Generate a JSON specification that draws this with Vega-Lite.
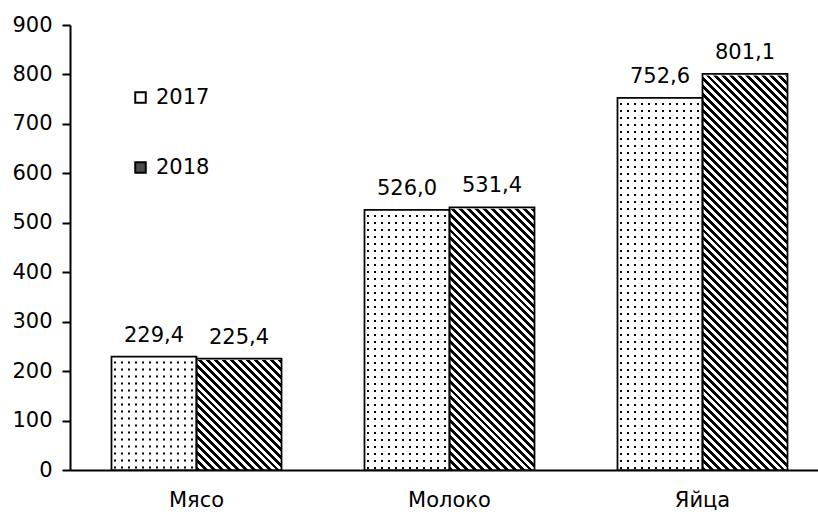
{
  "$schema": "https://vega.github.io/schema/vega-lite/v6.json",
  "width": 748,
  "height": 445,
  "autosize": {"type": "none"},
  "padding": {"left": 70, "top": 25, "right": 0, "bottom": 44},
  "background": "#ffffff",
  "config": {
    "font": "DejaVu Sans",
    "view": {"stroke": null},
    "locale": {"number": {"decimal": ",", "thousands": " ", "grouping": [3], "currency": ["", ""]}},
    "axis": {"domainColor": "#000", "domainWidth": 2, "tickColor": "#000", "tickWidth": 2, "labelColor": "#000", "labelFontSize": 21, "labelFont": "DejaVu Sans", "grid": false},
    "legend": {"labelColor": "#000", "labelFont": "DejaVu Sans"}
  },
  "data": {"values": [
    {"cat": "Мясо", "year": "2017", "value": 229.4},
    {"cat": "Мясо", "year": "2018", "value": 225.4},
    {"cat": "Молоко", "year": "2017", "value": 526.0},
    {"cat": "Молоко", "year": "2018", "value": 531.4},
    {"cat": "Яйца", "year": "2017", "value": 752.6},
    {"cat": "Яйца", "year": "2018", "value": 801.1}
  ]},
  "encoding": {
    "x": {"field": "cat", "type": "nominal", "sort": ["Мясо", "Молоко", "Яйца"], "title": null,
          "scale": {"range": [0, 759], "paddingInner": 0.328, "paddingOuter": 0.164},
          "axis": {"labelAngle": 0, "ticks": false, "tickSize": 0, "labelPadding": 19}},
    "xOffset": {"field": "year", "type": "nominal", "scale": {"paddingInner": 0, "paddingOuter": 0}},
    "y": {"field": "value", "type": "quantitative", "title": null,
          "scale": {"domain": [0, 900], "nice": false},
          "axis": {"values": [0, 100, 200, 300, 400, 500, 600, 700, 800, 900], "tickSize": 8, "labelPadding": 10}}
  },
  "layer": [
    {
      "mark": {"type": "bar", "stroke": null},
      "encoding": {
        "fill": {"field": "year", "type": "nominal", "scale": {"range": ["#ffffff", "#4d4d4d"]},
                 "legend": {"orient": "none", "legendX": 60, "legendY": 62, "title": null, "symbolType": "square", "symbolSize": 110, "symbolStrokeColor": "#000", "symbolStrokeWidth": 2, "symbolOpacity": 1, "labelFontSize": 21, "labelOffset": 5, "rowPadding": 48, "padding": 0}}
      }
    },
    {
      "transform": [{"filter": "datum.year == '2017'"}],
      "mark": {"type": "bar", "stroke": null, "fill": {"gradient": "linear", "x1": 0, "y1": 0, "x2": 1, "y2": 0, "stops": [
        {"offset": 0, "color": "#fff"},
        {"offset": 0.03, "color": "#fff"}, {"offset": 0.03, "color": "#000"}, {"offset": 0.0535, "color": "#000"}, {"offset": 0.0535, "color": "#fff"},
        {"offset": 0.1124, "color": "#fff"}, {"offset": 0.1124, "color": "#000"}, {"offset": 0.1359, "color": "#000"}, {"offset": 0.1359, "color": "#fff"},
        {"offset": 0.1947, "color": "#fff"}, {"offset": 0.1947, "color": "#000"}, {"offset": 0.2182, "color": "#000"}, {"offset": 0.2182, "color": "#fff"},
        {"offset": 0.2771, "color": "#fff"}, {"offset": 0.2771, "color": "#000"}, {"offset": 0.3006, "color": "#000"}, {"offset": 0.3006, "color": "#fff"},
        {"offset": 0.3594, "color": "#fff"}, {"offset": 0.3594, "color": "#000"}, {"offset": 0.3829, "color": "#000"}, {"offset": 0.3829, "color": "#fff"},
        {"offset": 0.4418, "color": "#fff"}, {"offset": 0.4418, "color": "#000"}, {"offset": 0.4653, "color": "#000"}, {"offset": 0.4653, "color": "#fff"},
        {"offset": 0.5241, "color": "#fff"}, {"offset": 0.5241, "color": "#000"}, {"offset": 0.5476, "color": "#000"}, {"offset": 0.5476, "color": "#fff"},
        {"offset": 0.6065, "color": "#fff"}, {"offset": 0.6065, "color": "#000"}, {"offset": 0.63, "color": "#000"}, {"offset": 0.63, "color": "#fff"},
        {"offset": 0.6888, "color": "#fff"}, {"offset": 0.6888, "color": "#000"}, {"offset": 0.7123, "color": "#000"}, {"offset": 0.7123, "color": "#fff"},
        {"offset": 0.7712, "color": "#fff"}, {"offset": 0.7712, "color": "#000"}, {"offset": 0.7947, "color": "#000"}, {"offset": 0.7947, "color": "#fff"},
        {"offset": 0.8535, "color": "#fff"}, {"offset": 0.8535, "color": "#000"}, {"offset": 0.877, "color": "#000"}, {"offset": 0.877, "color": "#fff"},
        {"offset": 0.9359, "color": "#fff"}, {"offset": 0.9359, "color": "#000"}, {"offset": 0.9594, "color": "#000"}, {"offset": 0.9594, "color": "#fff"},
        {"offset": 1, "color": "#fff"}
      ]}}
    },
    {
      "transform": [{"filter": "datum.year == '2017'"}],
      "mark": {"type": "rule", "stroke": "#fff", "strokeWidth": 85, "strokeDash": [5, 2], "strokeCap": "butt"},
      "encoding": {"y2": {"datum": 0}}
    },
    {
      "transform": [{"filter": "datum.year == '2018'"}],
      "mark": {"type": "bar", "stroke": null, "fill": {"gradient": "linear", "x1": 0, "y1": 1, "x2": 0.219489, "y2": -0.149088, "stops": [
        {"offset": 0, "color": "#000"},
        {"offset": 0.0075, "color": "#000"}, {"offset": 0.0075, "color": "#fff"},
        {"offset": 0.015, "color": "#fff"}, {"offset": 0.015, "color": "#000"},
        {"offset": 0.0225, "color": "#000"}, {"offset": 0.0225, "color": "#fff"},
        {"offset": 0.03, "color": "#fff"}, {"offset": 0.03, "color": "#000"},
        {"offset": 0.0375, "color": "#000"}, {"offset": 0.0375, "color": "#fff"},
        {"offset": 0.045, "color": "#fff"}, {"offset": 0.045, "color": "#000"},
        {"offset": 0.0525, "color": "#000"}, {"offset": 0.0525, "color": "#fff"},
        {"offset": 0.06, "color": "#fff"}, {"offset": 0.06, "color": "#000"},
        {"offset": 0.0675, "color": "#000"}, {"offset": 0.0675, "color": "#fff"},
        {"offset": 0.075, "color": "#fff"}, {"offset": 0.075, "color": "#000"},
        {"offset": 0.0825, "color": "#000"}, {"offset": 0.0825, "color": "#fff"},
        {"offset": 0.09, "color": "#fff"}, {"offset": 0.09, "color": "#000"},
        {"offset": 0.0975, "color": "#000"}, {"offset": 0.0975, "color": "#fff"},
        {"offset": 0.105, "color": "#fff"}, {"offset": 0.105, "color": "#000"},
        {"offset": 0.1125, "color": "#000"}, {"offset": 0.1125, "color": "#fff"},
        {"offset": 0.12, "color": "#fff"}, {"offset": 0.12, "color": "#000"},
        {"offset": 0.1275, "color": "#000"}, {"offset": 0.1275, "color": "#fff"},
        {"offset": 0.135, "color": "#fff"}, {"offset": 0.135, "color": "#000"},
        {"offset": 0.1425, "color": "#000"}, {"offset": 0.1425, "color": "#fff"},
        {"offset": 0.15, "color": "#fff"}, {"offset": 0.15, "color": "#000"},
        {"offset": 0.1575, "color": "#000"}, {"offset": 0.1575, "color": "#fff"},
        {"offset": 0.165, "color": "#fff"}, {"offset": 0.165, "color": "#000"},
        {"offset": 0.1725, "color": "#000"}, {"offset": 0.1725, "color": "#fff"},
        {"offset": 0.18, "color": "#fff"}, {"offset": 0.18, "color": "#000"},
        {"offset": 0.1875, "color": "#000"}, {"offset": 0.1875, "color": "#fff"},
        {"offset": 0.195, "color": "#fff"}, {"offset": 0.195, "color": "#000"},
        {"offset": 0.2025, "color": "#000"}, {"offset": 0.2025, "color": "#fff"},
        {"offset": 0.21, "color": "#fff"}, {"offset": 0.21, "color": "#000"},
        {"offset": 0.2175, "color": "#000"}, {"offset": 0.2175, "color": "#fff"},
        {"offset": 0.225, "color": "#fff"}, {"offset": 0.225, "color": "#000"},
        {"offset": 0.2325, "color": "#000"}, {"offset": 0.2325, "color": "#fff"},
        {"offset": 0.24, "color": "#fff"}, {"offset": 0.24, "color": "#000"},
        {"offset": 0.2475, "color": "#000"}, {"offset": 0.2475, "color": "#fff"},
        {"offset": 0.255, "color": "#fff"}, {"offset": 0.255, "color": "#000"},
        {"offset": 0.2625, "color": "#000"}, {"offset": 0.2625, "color": "#fff"},
        {"offset": 0.27, "color": "#fff"}, {"offset": 0.27, "color": "#000"},
        {"offset": 0.2775, "color": "#000"}, {"offset": 0.2775, "color": "#fff"},
        {"offset": 0.285, "color": "#fff"}, {"offset": 0.285, "color": "#000"},
        {"offset": 0.2925, "color": "#000"}, {"offset": 0.2925, "color": "#fff"},
        {"offset": 0.3, "color": "#fff"}, {"offset": 0.3, "color": "#000"},
        {"offset": 0.3075, "color": "#000"}, {"offset": 0.3075, "color": "#fff"},
        {"offset": 0.315, "color": "#fff"}, {"offset": 0.315, "color": "#000"},
        {"offset": 0.3225, "color": "#000"}, {"offset": 0.3225, "color": "#fff"},
        {"offset": 0.33, "color": "#fff"}, {"offset": 0.33, "color": "#000"},
        {"offset": 0.3375, "color": "#000"}, {"offset": 0.3375, "color": "#fff"},
        {"offset": 0.345, "color": "#fff"}, {"offset": 0.345, "color": "#000"},
        {"offset": 0.3525, "color": "#000"}, {"offset": 0.3525, "color": "#fff"},
        {"offset": 0.36, "color": "#fff"}, {"offset": 0.36, "color": "#000"},
        {"offset": 0.3675, "color": "#000"}, {"offset": 0.3675, "color": "#fff"},
        {"offset": 0.375, "color": "#fff"}, {"offset": 0.375, "color": "#000"},
        {"offset": 0.3825, "color": "#000"}, {"offset": 0.3825, "color": "#fff"},
        {"offset": 0.39, "color": "#fff"}, {"offset": 0.39, "color": "#000"},
        {"offset": 0.3975, "color": "#000"}, {"offset": 0.3975, "color": "#fff"},
        {"offset": 0.405, "color": "#fff"}, {"offset": 0.405, "color": "#000"},
        {"offset": 0.4125, "color": "#000"}, {"offset": 0.4125, "color": "#fff"},
        {"offset": 0.42, "color": "#fff"}, {"offset": 0.42, "color": "#000"},
        {"offset": 0.4275, "color": "#000"}, {"offset": 0.4275, "color": "#fff"},
        {"offset": 0.435, "color": "#fff"}, {"offset": 0.435, "color": "#000"},
        {"offset": 0.4425, "color": "#000"}, {"offset": 0.4425, "color": "#fff"},
        {"offset": 0.45, "color": "#fff"}, {"offset": 0.45, "color": "#000"},
        {"offset": 0.4575, "color": "#000"}, {"offset": 0.4575, "color": "#fff"},
        {"offset": 0.465, "color": "#fff"}, {"offset": 0.465, "color": "#000"},
        {"offset": 0.4725, "color": "#000"}, {"offset": 0.4725, "color": "#fff"},
        {"offset": 0.48, "color": "#fff"}, {"offset": 0.48, "color": "#000"},
        {"offset": 0.4875, "color": "#000"}, {"offset": 0.4875, "color": "#fff"},
        {"offset": 0.495, "color": "#fff"}, {"offset": 0.495, "color": "#000"},
        {"offset": 0.5025, "color": "#000"}, {"offset": 0.5025, "color": "#fff"},
        {"offset": 0.51, "color": "#fff"}, {"offset": 0.51, "color": "#000"},
        {"offset": 0.5175, "color": "#000"}, {"offset": 0.5175, "color": "#fff"},
        {"offset": 0.525, "color": "#fff"}, {"offset": 0.525, "color": "#000"},
        {"offset": 0.5325, "color": "#000"}, {"offset": 0.5325, "color": "#fff"},
        {"offset": 0.54, "color": "#fff"}, {"offset": 0.54, "color": "#000"},
        {"offset": 0.5475, "color": "#000"}, {"offset": 0.5475, "color": "#fff"},
        {"offset": 0.555, "color": "#fff"}, {"offset": 0.555, "color": "#000"},
        {"offset": 0.5625, "color": "#000"}, {"offset": 0.5625, "color": "#fff"},
        {"offset": 0.57, "color": "#fff"}, {"offset": 0.57, "color": "#000"},
        {"offset": 0.5775, "color": "#000"}, {"offset": 0.5775, "color": "#fff"},
        {"offset": 0.585, "color": "#fff"}, {"offset": 0.585, "color": "#000"},
        {"offset": 0.5925, "color": "#000"}, {"offset": 0.5925, "color": "#fff"},
        {"offset": 0.6, "color": "#fff"}, {"offset": 0.6, "color": "#000"},
        {"offset": 0.6075, "color": "#000"}, {"offset": 0.6075, "color": "#fff"},
        {"offset": 0.615, "color": "#fff"}, {"offset": 0.615, "color": "#000"},
        {"offset": 0.6225, "color": "#000"}, {"offset": 0.6225, "color": "#fff"},
        {"offset": 0.63, "color": "#fff"}, {"offset": 0.63, "color": "#000"},
        {"offset": 0.6375, "color": "#000"}, {"offset": 0.6375, "color": "#fff"},
        {"offset": 0.645, "color": "#fff"}, {"offset": 0.645, "color": "#000"},
        {"offset": 0.6525, "color": "#000"}, {"offset": 0.6525, "color": "#fff"},
        {"offset": 0.66, "color": "#fff"}, {"offset": 0.66, "color": "#000"},
        {"offset": 0.6675, "color": "#000"}, {"offset": 0.6675, "color": "#fff"},
        {"offset": 0.675, "color": "#fff"}, {"offset": 0.675, "color": "#000"},
        {"offset": 0.6825, "color": "#000"}, {"offset": 0.6825, "color": "#fff"},
        {"offset": 0.69, "color": "#fff"}, {"offset": 0.69, "color": "#000"},
        {"offset": 0.6975, "color": "#000"}, {"offset": 0.6975, "color": "#fff"},
        {"offset": 0.705, "color": "#fff"}, {"offset": 0.705, "color": "#000"},
        {"offset": 0.7125, "color": "#000"}, {"offset": 0.7125, "color": "#fff"},
        {"offset": 0.72, "color": "#fff"}, {"offset": 0.72, "color": "#000"},
        {"offset": 0.7275, "color": "#000"}, {"offset": 0.7275, "color": "#fff"},
        {"offset": 0.735, "color": "#fff"}, {"offset": 0.735, "color": "#000"},
        {"offset": 0.7425, "color": "#000"}, {"offset": 0.7425, "color": "#fff"},
        {"offset": 0.75, "color": "#fff"}, {"offset": 0.75, "color": "#000"},
        {"offset": 0.7575, "color": "#000"}, {"offset": 0.7575, "color": "#fff"},
        {"offset": 0.765, "color": "#fff"}, {"offset": 0.765, "color": "#000"},
        {"offset": 0.7725, "color": "#000"}, {"offset": 0.7725, "color": "#fff"},
        {"offset": 0.78, "color": "#fff"}, {"offset": 0.78, "color": "#000"},
        {"offset": 0.7875, "color": "#000"}, {"offset": 0.7875, "color": "#fff"},
        {"offset": 0.795, "color": "#fff"}, {"offset": 0.795, "color": "#000"},
        {"offset": 0.8025, "color": "#000"}, {"offset": 0.8025, "color": "#fff"},
        {"offset": 0.81, "color": "#fff"}, {"offset": 0.81, "color": "#000"},
        {"offset": 0.8175, "color": "#000"}, {"offset": 0.8175, "color": "#fff"},
        {"offset": 0.825, "color": "#fff"}, {"offset": 0.825, "color": "#000"},
        {"offset": 0.8325, "color": "#000"}, {"offset": 0.8325, "color": "#fff"},
        {"offset": 0.84, "color": "#fff"}, {"offset": 0.84, "color": "#000"},
        {"offset": 0.8475, "color": "#000"}, {"offset": 0.8475, "color": "#fff"},
        {"offset": 0.855, "color": "#fff"}, {"offset": 0.855, "color": "#000"},
        {"offset": 0.8625, "color": "#000"}, {"offset": 0.8625, "color": "#fff"},
        {"offset": 0.87, "color": "#fff"}, {"offset": 0.87, "color": "#000"},
        {"offset": 0.8775, "color": "#000"}, {"offset": 0.8775, "color": "#fff"},
        {"offset": 0.885, "color": "#fff"}, {"offset": 0.885, "color": "#000"},
        {"offset": 0.8925, "color": "#000"}, {"offset": 0.8925, "color": "#fff"},
        {"offset": 0.9, "color": "#fff"}, {"offset": 0.9, "color": "#000"},
        {"offset": 0.9075, "color": "#000"}, {"offset": 0.9075, "color": "#fff"},
        {"offset": 0.915, "color": "#fff"}, {"offset": 0.915, "color": "#000"},
        {"offset": 0.9225, "color": "#000"}, {"offset": 0.9225, "color": "#fff"},
        {"offset": 0.93, "color": "#fff"}, {"offset": 0.93, "color": "#000"},
        {"offset": 0.9375, "color": "#000"}, {"offset": 0.9375, "color": "#fff"},
        {"offset": 0.945, "color": "#fff"}, {"offset": 0.945, "color": "#000"},
        {"offset": 0.9525, "color": "#000"}, {"offset": 0.9525, "color": "#fff"},
        {"offset": 0.96, "color": "#fff"}, {"offset": 0.96, "color": "#000"},
        {"offset": 0.9675, "color": "#000"}, {"offset": 0.9675, "color": "#fff"},
        {"offset": 0.975, "color": "#fff"}, {"offset": 0.975, "color": "#000"},
        {"offset": 0.9825, "color": "#000"}, {"offset": 0.9825, "color": "#fff"},
        {"offset": 0.99, "color": "#fff"}, {"offset": 0.99, "color": "#000"},
        {"offset": 0.9975, "color": "#000"}, {"offset": 0.9975, "color": "#fff"},
        {"offset": 1, "color": "#fff"}
      ]}},
      "encoding": {"y": {"datum": 900, "type": "quantitative", "title": null}, "y2": {"datum": 0}}
    },
    {
      "transform": [{"filter": "datum.year == '2018'"}],
      "mark": {"type": "bar", "stroke": "#fff", "strokeWidth": 3, "fill": "#fff"},
      "encoding": {"y2": {"datum": 900}}
    },
    {
      "mark": {"type": "bar", "fill": "transparent", "stroke": "#000", "strokeWidth": 1.75}
    },
    {
      "mark": {"type": "text", "baseline": "alphabetic", "dy": -15, "fontSize": 21, "fill": "#000", "font": "DejaVu Sans"},
      "encoding": {"text": {"field": "value", "type": "quantitative", "format": ".1f"}}
    }
  ]
}
